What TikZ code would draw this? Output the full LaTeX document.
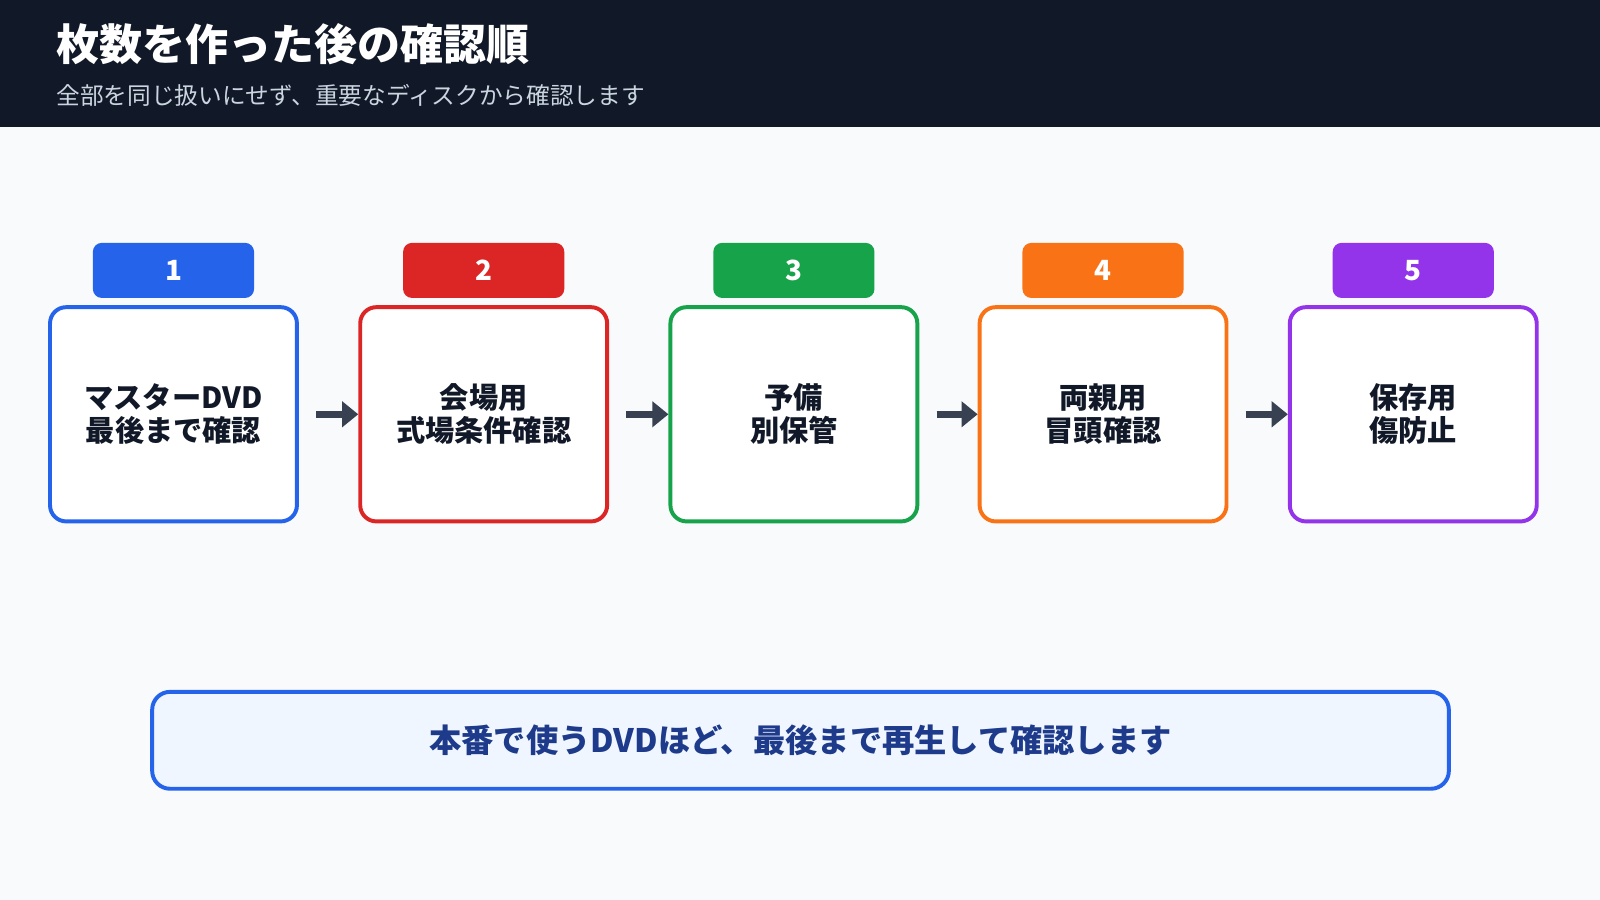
\documentclass[tikz,border=0pt]{standalone}
\usepackage{fontspec}
\setmainfont{Noto Sans CJK JP}
\usetikzlibrary{arrows.meta}
\definecolor{hdr}{HTML}{111827}
\definecolor{bg}{HTML}{F8FAFC}
\definecolor{sub}{HTML}{CBD5E1}
\definecolor{arr}{HTML}{374151}
\definecolor{cA}{HTML}{2563EB}
\definecolor{cB}{HTML}{DC2626}
\definecolor{cC}{HTML}{16A34A}
\definecolor{cD}{HTML}{F97316}
\definecolor{cE}{HTML}{9333EA}
\definecolor{note}{HTML}{EFF6FF}
\definecolor{notetxt}{HTML}{1E3A8A}
\begin{document}
\begin{tikzpicture}[x=0.02cm,y=-0.02cm,
 step/.style={draw=#1,line width=2.2pt,fill=white,rounded corners=9pt,minimum width=4.84cm,minimum height=4.2cm,align=center,font=\fontsize{16.3}{18.5}\selectfont\bfseries,text=hdr},
 badge/.style={fill=#1,rounded corners=5pt,minimum width=3.16cm,minimum height=1.08cm,text=white,font=\fontsize{15.5}{18}\selectfont\bfseries},
 conn/.style={draw=arr,line width=4pt,-{Triangle[length=9pt,width=14pt]}}]
\useasboundingbox (0,0) rectangle (1568,882);
\fill[bg] (0,0) rectangle (1568,882);
\fill[hdr] (0,0) rectangle (1568,124);
\node[anchor=west,text=white,font=\fontsize{24}{28}\selectfont\bfseries,inner sep=0] (title) at (55,43) {枚数を作った後の確認順};
\node[anchor=west,text=sub,font=\fontsize{13.2}{15}\selectfont,inner sep=0] (subtitle) at (55,93) {全部を同じ扱いにせず、重要なディスクから確認します};
\foreach \i/\x/\c/\t in {1/170/cA/{マスターDVD\\最後まで確認},2/474/cB/{会場用\\式場条件確認},3/778/cC/{予備\\別保管},4/1081/cD/{両親用\\冒頭確認},5/1385/cE/{保存用\\傷防止}}{
 \node[step=\c] (s\i) at (\x,406) {\t};
 \node[badge=\c] (b\i) at (\x,265) {\i};
}
\foreach \a/\b in {1/2,2/3,3/4,4/5}{
 \draw[conn] ([xshift=0.34cm]s\a.east) -- (s\b.west);
}
\node[draw=cA,line width=2.2pt,fill=note,rounded corners=10pt,minimum width=25.42cm,minimum height=1.9cm,text=notetxt,font=\fontsize{18}{21}\selectfont\bfseries] (note) at (784.5,725.5) {本番で使うDVDほど、最後まで再生して確認します};
\end{tikzpicture}
\end{document}
